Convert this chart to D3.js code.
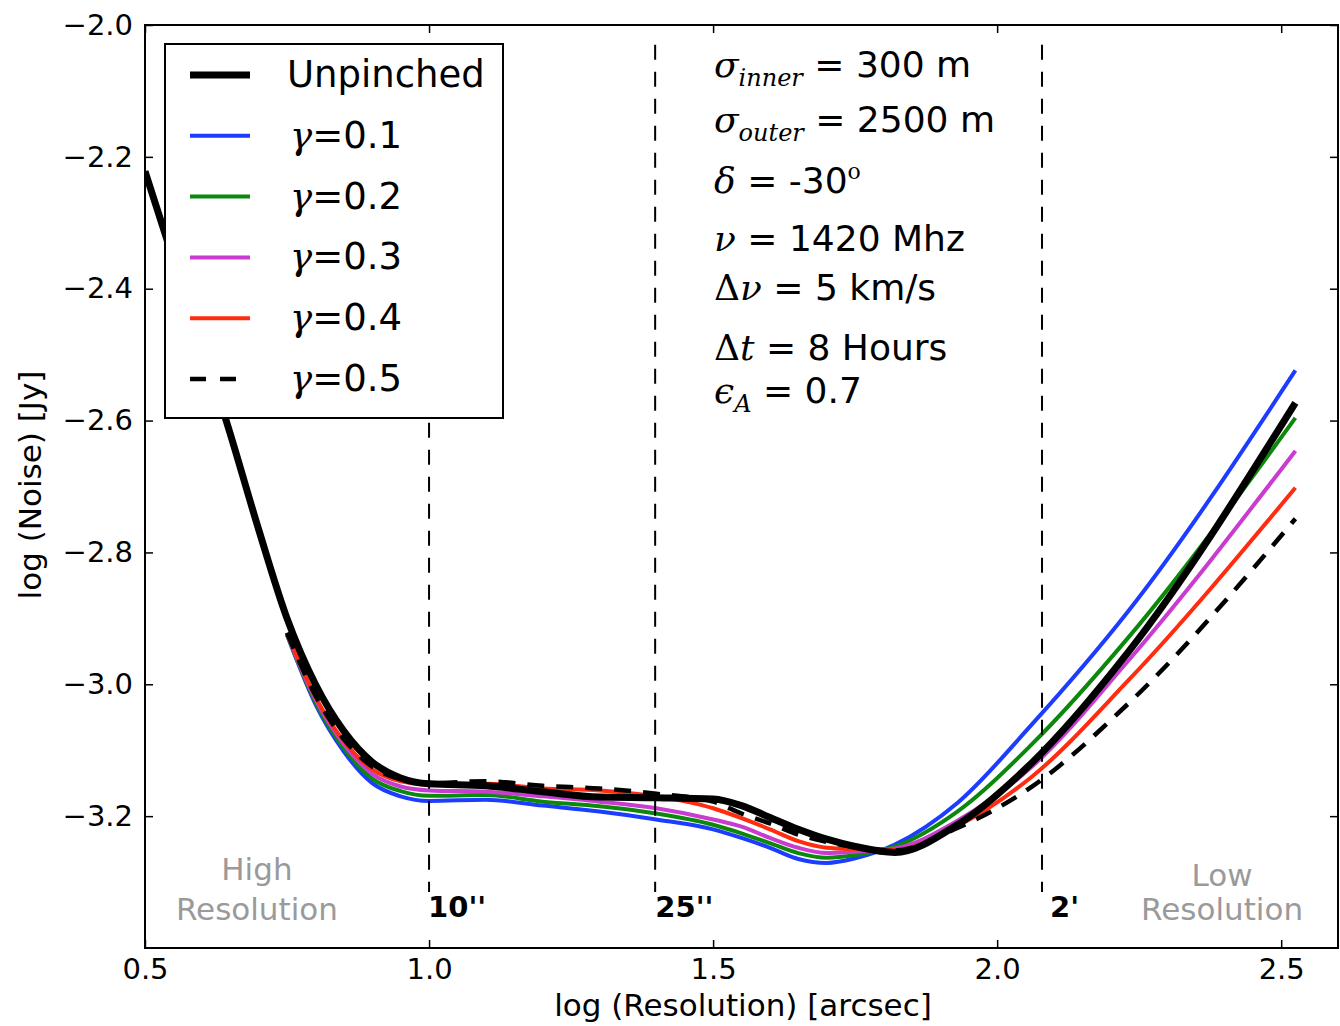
<!DOCTYPE html>
<html>
<head>
<meta charset="utf-8">
<script src="https://cdn.jsdelivr.net/npm/d3@7"></script>
<style>
  body { margin: 0; background: #fff; }
  text { font-family: 'DejaVu Sans', sans-serif; fill: #000; }
</style>
</head>
<body>
<script>
const w = 1340, h = 1026
const plotLeft = 145, plotRight = 1338, plotTop = 25, plotBottom = 948

// resolution axis, log(arcsec)
const unpinchedX = [0.5, 0.55, 0.6, 0.65, 0.7, 0.75, 0.8, 0.85, 0.9, 0.95, 1.0, 1.1, 1.2, 1.3, 1.4, 1.5, 1.55, 1.6, 1.65, 1.7, 1.75, 1.82, 1.93, 2.06, 2.23, 2.525]
const unpinched = [-2.222, -2.356, -2.483, -2.620, -2.765, -2.900, -3.000, -3.071, -3.118, -3.142, -3.151, -3.154, -3.163, -3.171, -3.172, -3.174, -3.184, -3.202, -3.220, -3.235, -3.246, -3.255, -3.213, -3.120, -2.952, -2.573]

const gammaX = [0.75, 0.8, 0.85, 0.9, 0.95, 1.0, 1.1, 1.2, 1.3, 1.4, 1.5, 1.55, 1.6, 1.65, 1.7, 1.75, 1.82, 1.93, 2.06, 2.23, 2.525]
const gamma01 = [-2.925, -3.030, -3.102, -3.150, -3.170, -3.177, -3.175, -3.184, -3.193, -3.205, -3.220, -3.233, -3.248, -3.265, -3.271, -3.264, -3.243, -3.180, -3.062, -2.890, -2.524]
const gamma02 = [-2.925, -3.027, -3.097, -3.143, -3.162, -3.169, -3.168, -3.178, -3.185, -3.196, -3.213, -3.226, -3.241, -3.256, -3.263, -3.259, -3.246, -3.193, -3.092, -2.930, -2.596]
const gamma03 = [-2.924, -3.023, -3.091, -3.136, -3.155, -3.161, -3.163, -3.170, -3.178, -3.188, -3.205, -3.216, -3.233, -3.248, -3.256, -3.254, -3.249, -3.207, -3.126, -2.965, -2.646]
const gamma04 = [-2.922, -3.019, -3.086, -3.129, -3.147, -3.152, -3.151, -3.158, -3.161, -3.170, -3.188, -3.203, -3.220, -3.238, -3.248, -3.250, -3.251, -3.215, -3.141, -2.995, -2.702]
const gamma05 = [-2.922, -3.017, -3.083, -3.125, -3.144, -3.150, -3.147, -3.154, -3.158, -3.166, -3.178, -3.196, -3.211, -3.228, -3.239, -3.247, -3.252, -3.218, -3.156, -3.030, -2.749]

const gammaLabels = ['0.1', '0.2', '0.3', '0.4', '0.5']
const gammaColors = ['#1c3cff', '#0c880c', '#c83ccf', '#ff2c10', '#000']

const xTicks = [0.5, 1.0, 1.5, 2.0, 2.5]
const yTicks = [-2.0, -2.2, -2.4, -2.6, -2.8, -3.0, -3.2]

// 10'', 25'', 2'
const markerX = [1.0, 1.398, 2.079]
const markerLabels = ["10''", "25''", "2'"]
const markerLabelX = [1.0, 1.4, 2.095]

const infoLines = [
    [['σ', 'm'], ['inner', 'sub'], [' = 300 m', '']],
    [['σ', 'm'], ['outer', 'sub'], [' = 2500 m', '']],
    [['δ', 'm'], [' = -30', ''], ['o', 'sup']],
    [['ν', 'm'], [' = 1420 Mhz', '']],
    [['Δ', 'mu'], ['ν', 'm'], [' = 5 km/s', '']],
    [['Δ', 'mu'], ['t', 'm'], [' = 8 Hours', '']],
    [['ϵ', 'm'], ['A', 'sub'], [' = 0.7', '']]
]
const infoBaselines = [77, 132, 193, 251, 300, 360, 403]

const svg = d3.select('body')
            .append('svg')
            .attr('width', w)
            .attr('height', h)

const xScale = d3.scaleLinear()
                .domain([0.5, 2.6])
                .range([plotLeft, plotRight])
const yScale = d3.scaleLinear()
                .domain([-3.4, -2.0])
                .range([plotBottom, plotTop])

svg.append('defs')
    .append('clipPath')
    .attr('id', 'plot')
    .append('rect')
    .attr('x', plotLeft)
    .attr('y', plotTop)
    .attr('width', plotRight - plotLeft)
    .attr('height', plotBottom - plotTop)

const line = d3.line()
            .x(d => xScale(d[0]))
            .y(d => yScale(d[1]))
            .curve(d3.curveMonotoneX)

const plot = svg.append('g').attr('clip-path', 'url(#plot)')

const gammaSeries = [gamma01, gamma02, gamma03, gamma04, gamma05]
gammaSeries.forEach((ys, i) => {
    plot.append('path')
        .datum(gammaX.map((x, j) => [x, ys[j]]))
        .attr('d', line)
        .attr('fill', 'none')
        .attr('stroke', gammaColors[i])
        .attr('stroke-width', i == 4 ? 4.5 : 4)
        .attr('stroke-dasharray', i == 4 ? '17,12' : null)
        .attr('stroke-linejoin', 'round')
})

plot.append('path')
    .datum(unpinchedX.map((x, j) => [x, unpinched[j]]))
    .attr('d', line)
    .attr('fill', 'none')
    .attr('stroke', '#000')
    .attr('stroke-width', 7)
    .attr('stroke-linejoin', 'round')

// resolution markers
plot.selectAll('.marker')
    .data(markerX)
    .enter()
    .append('line')
    .attr('class', 'marker')
    .attr('x1', d => xScale(d))
    .attr('x2', d => xScale(d))
    .attr('y1', yScale(-2.03))
    .attr('y2', yScale(-3.315))
    .attr('stroke', '#000')
    .attr('stroke-width', 2)
    .attr('stroke-dasharray', '15,12')

svg.selectAll('.marker-label')
    .data(markerLabelX)
    .enter()
    .append('text')
    .attr('class', 'marker-label')
    .attr('x', d => xScale(d) - 1)
    .attr('y', plotBottom - 31)
    .attr('font-weight', 'bold')
    .attr('font-size', 29)
    .text((d, i) => markerLabels[i])

// High / Low resolution
const gray = '#9a9a9a'
const hiLo = [[0.697, ['High', 'Resolution'], [880, 920]], [2.396, ['Low', 'Resolution'], [886, 920]]]
hiLo.forEach(item => {
    item[1].forEach((t, i) => {
        svg.append('text')
            .attr('x', xScale(item[0]))
            .attr('y', item[2][i])
            .attr('text-anchor', 'middle')
            .attr('font-size', 31)
            .style('fill', gray)
            .text(t)
    })
})

// axes, ticks point inward
const fmt = d3.format('.1f')
svg.append('g')
    .attr('transform', 'translate(0,' + plotBottom + ')')
    .call(d3.axisBottom(xScale).tickValues(xTicks).tickFormat(fmt).tickSizeInner(-8).tickSizeOuter(0).tickPadding(10))
svg.append('g')
    .attr('transform', 'translate(0,' + plotTop + ')')
    .call(d3.axisTop(xScale).tickValues(xTicks).tickFormat('').tickSizeInner(-8).tickSizeOuter(0))
svg.append('g')
    .attr('transform', 'translate(' + plotLeft + ',0)')
    .call(d3.axisLeft(yScale).tickValues(yTicks).tickFormat(fmt).tickSizeInner(-8).tickSizeOuter(0).tickPadding(12))
svg.append('g')
    .attr('transform', 'translate(' + plotRight + ',0)')
    .call(d3.axisRight(yScale).tickValues(yTicks).tickFormat('').tickSizeInner(-8).tickSizeOuter(0))

svg.selectAll('.domain').remove()
svg.selectAll('.tick line').attr('stroke', '#000').attr('stroke-width', 1.5)
svg.selectAll('.tick text')
    .attr('font-size', 29)
    .attr('font-family', 'DejaVu Sans')
    .attr('fill', '#222')

svg.append('rect')
    .attr('x', plotLeft)
    .attr('y', plotTop)
    .attr('width', plotRight - plotLeft)
    .attr('height', plotBottom - plotTop)
    .attr('fill', 'none')
    .attr('stroke', '#000')
    .attr('stroke-width', 2)

svg.append('text')
    .text('log (Resolution) [arcsec]')
    .attr('x', 743)
    .attr('y', 1016)
    .attr('text-anchor', 'middle')
    .attr('font-size', 31)

svg.append('text')
    .text('log (Noise) [Jy]')
    .attr('transform', 'translate(41,485) rotate(-90)')
    .attr('text-anchor', 'middle')
    .attr('font-size', 31)

// legend
const legend = svg.append('g')
                .attr('id', 'legend')
legend.append('rect')
    .attr('x', 165)
    .attr('y', 44)
    .attr('width', 338)
    .attr('height', 374)
    .attr('fill', '#fff')
    .attr('stroke', '#000')
    .attr('stroke-width', 2)

const legendRows = ['Unpinched'].concat(gammaLabels)
legendRows.forEach((label, i) => {
    const ly = 75 + i * 60.8
    legend.append('line')
        .attr('x1', 190)
        .attr('x2', 250)
        .attr('y1', ly)
        .attr('y2', ly)
        .attr('stroke', i == 0 ? '#000' : gammaColors[i - 1])
        .attr('stroke-width', i == 0 ? 7 : (i == 5 ? 4.5 : 4))
        .attr('stroke-dasharray', i == 5 ? '16,14' : null)
    const t = legend.append('text')
                .attr('x', i == 0 ? 287 : 290)
                .attr('y', ly + 12)
                .attr('font-size', 37)
    if (i == 0) {
        t.text(label)
    } else {
        t.append('tspan').attr('font-family', 'DejaVu Serif').attr('font-style', 'italic').text('γ')
        t.append('tspan').text('=' + label)
    }
})

// run parameters
infoLines.forEach((parts, i) => {
    const t = svg.append('text')
                .attr('x', 714)
                .attr('y', infoBaselines[i])
                .attr('font-size', 36)
    let shift = 0
    parts.forEach(p => {
        const s = t.append('tspan').text(p[0])
        let want = 0
        if (p[1] == 'm' || p[1] == 'sub') {
            s.attr('font-family', 'DejaVu Serif').attr('font-style', 'italic')
        }
        if (p[1] == 'mu') s.attr('font-family', 'DejaVu Serif')
        if (p[1] == 'sub') { s.attr('font-size', 24); want = 9 }
        if (p[1] == 'sup') { s.attr('font-size', 22).attr('font-family', 'DejaVu Serif'); want = -14 }
        if (want != shift) { s.attr('dy', want - shift); shift = want }
    })
})
</script>
</body>
</html>
